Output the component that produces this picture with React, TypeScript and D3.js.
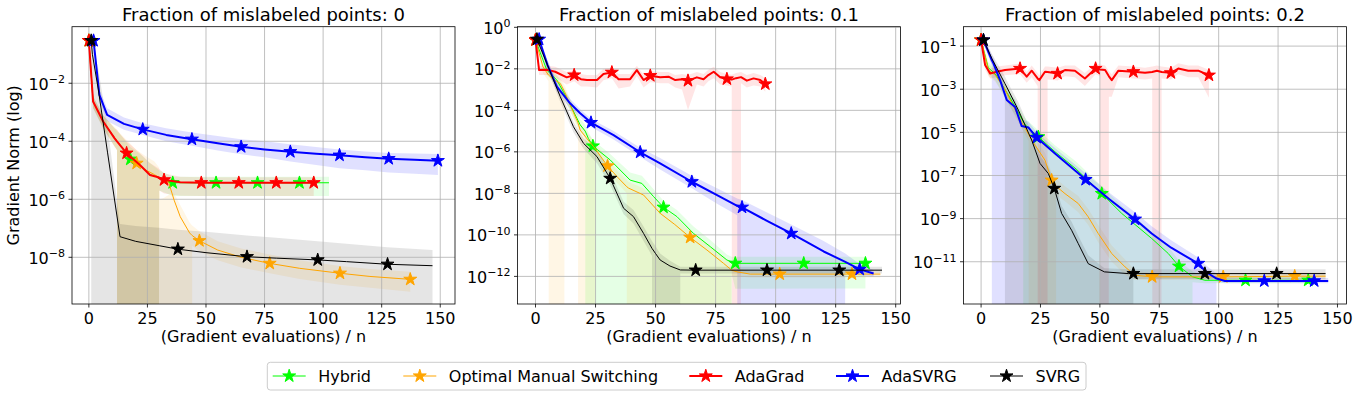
import React, { useEffect, useRef } from "react";
import * as d3 from "d3";

// each point: [x, log10 mean, log10 lower (null = mean-std below zero), log10 upper, star marker?]
type Pt = [number, number, number | null, number, number?];

const fractions = ["0", "0.1", "0.2"];
const methods = ["Hybrid", "Optimal Manual Switching", "AdaGrad", "AdaSVRG", "SVRG"];
const methodColors = ["#00ff00", "#ffa500", "#ff0000", "#0000ff", "#000000"];
const methodWidths = [1, 1, 2, 2, 1];
const bandAlpha = [0.1, 0.1, 0.1, 0.12, 0.1];
const xTicks = [0, 25, 50, 75, 100, 125, 150];
const yTicks0 = [-8, -6, -4, -2];
const yTicks1 = [-12, -10, -8, -6, -4, -2, 0];
const yTicks2 = [-11, -9, -7, -5, -3, -1];

// ---- fraction 0 ----
const hybrid0: Pt[] = [
  [0, -0.53, -0.65, -0.42, 1], [1.8, -2.63, -2.85, -2.45], [6.1, -3.32, -3.55, -3.1],
  [12, -4.0, -4.3, -3.65], [13.3, -4.13, null, -3.75], [17.7, -4.62, null, -4.2, 1],
  [22, -4.85, null, -4.45], [26, -5.15, null, -4.75], [30, -5.25, -5.7, -5.0],
  [35.8, -5.43, -5.89, -5.22, 1], [54.3, -5.43, -5.89, -5.22, 1], [72, -5.43, -5.89, -5.22, 1],
  [89.9, -5.43, -5.89, -5.22, 1], [102.5, -5.43, -5.89, -5.22],
];
const oms0: Pt[] = [
  [0, -0.53, -0.65, -0.42, 1], [1.8, -2.63, -2.85, -2.45], [6.1, -3.32, -3.55, -3.1],
  [12, -4.0, -4.3, -3.6], [13, -4.1, null, -3.7], [16, -4.4, null, -3.95], [20.4, -4.76, null, -4.3, 1],
  [24, -4.98, null, -4.5], [28, -5.15, null, -4.7], [30, -5.25, null, -4.9], [30.4, -5.27, null, -6.0],
  [32.1, -5.33, null, -5.95], [34, -5.4, null, -5.85], [36.4, -6.03, null, -5.8],
  [39, -6.6, null, -6.2], [43, -7.16, null, -6.8], [44.1, -7.25, -7.6, -6.9],
  [47.2, -7.43, -7.8, -7.1, 1], [55, -7.75, -8.1, -7.45], [65, -8.0, -8.35, -7.7],
  [77.2, -8.21, -8.55, -7.9, 1], [90, -8.38, -8.75, -8.1], [107.2, -8.55, -8.95, -8.3, 1],
  [120, -8.66, -9.05, -8.4], [137.2, -8.76, -9.19, -8.5, 1],
];
const adagrad0: Pt[] = [
  [0, -0.53, -0.65, -0.42, 1], [1.8, -2.63, -2.85, -2.45], [6.1, -3.32, -3.55, -3.1],
  [11, -3.9, -4.2, -3.55], [12, -4.0, -4.3, -3.6], [13.3, -4.13, null, -3.75],
  [16.1, -4.41, null, -4.0, 1], [21.8, -4.82, null, -4.4], [26.1, -5.16, null, -4.75],
  [30, -5.25, -5.7, -4.95], [32.1, -5.33, -5.8, -5.1, 1], [39, -5.41, -5.88, -5.22],
  [48, -5.43, -5.89, -5.24, 1], [64, -5.43, -5.89, -5.24, 1], [80, -5.43, -5.89, -5.24, 1],
  [96, -5.43, -5.89, -5.24, 1],
];
const adasvrg0: Pt[] = [
  [2, -0.53, -0.65, -0.42, 1], [4.5, -2.4, -2.6, -2.2], [7.8, -3.09, -3.3, -2.86],
  [15, -3.4, -3.6, -3.18], [23, -3.59, -3.78, -3.38, 1], [33, -3.78, -4.0, -3.55],
  [44, -3.93, -4.15, -3.7, 1], [55, -4.07, -4.32, -3.82], [65, -4.19, -4.45, -3.93, 1],
  [75, -4.28, -4.55, -4.0], [86, -4.36, -4.7, -4.1, 1], [97, -4.43, -4.82, -4.2],
  [107, -4.48, -4.93, -4.28, 1], [118, -4.55, -5.0, -4.35], [128, -4.6, -5.08, -4.4, 1],
  [139, -4.64, -5.12, -4.42], [149, -4.67, -5.16, -4.44, 1],
];
const svrg0: Pt[] = [
  [1, -0.53, -0.65, -0.4, 1], [1.5, -1.0, null, -0.6], [4, -2.2, null, -1.5], [8, -4.4, null, -3.5],
  [13.3, -7.29, null, -6.85], [20, -7.45, null, -6.92], [30, -7.6, null, -6.98],
  [38, -7.72, null, -7.05, 1], [50, -7.84, null, -7.12], [67.5, -7.98, null, -7.25, 1],
  [80, -8.03, null, -7.33], [97.7, -8.09, null, -7.45, 1], [110, -8.15, null, -7.53],
  [127.5, -8.24, null, -7.65, 1], [146.7, -8.29, null, -7.75],
];

// ---- fraction 0.1 ----
const hybrid1: Pt[] = [
  [0, -0.61, -0.75, -0.5, 1], [4.7, -2.06, -2.3, -1.85], [8.9, -2.54, -2.8, -2.3],
  [13, -3.4, -3.7, -3.15], [18.6, -4.7, -5.0, -4.4], [20.7, -5.0, -5.3, -4.7],
  [22, -5.35, null, -5.05], [23.9, -5.72, null, -5.43, 1], [31.1, -6.39, null, -6.1],
  [39.4, -7.36, null, -7.0], [44.3, -7.52, null, -7.15], [49.2, -8.16, null, -7.8],
  [53.3, -8.67, null, -8.35, 1], [58.9, -9.12, null, -8.8], [65.8, -9.93, null, -9.6],
  [72.8, -10.57, null, -10.25], [79.7, -11.21, null, -10.95], [81.7, -11.3, -11.9, -11.05],
  [83.2, -11.37, -12.6, -11.05, 1], [111.7, -11.37, -12.58, -11.05, 1], [137.4, -11.37, -12.58, -11.05, 1],
];
const oms1: Pt[] = [
  [0, -0.61, -0.75, -0.5, 1], [3.1, -1.9, -2.2, -1.7], [5.4, -2.3, -2.6, -2.05],
  [8, -2.55, null, -2.3], [10.3, -2.7, null, -2.45], [12.1, -3.1, -3.5, -2.8],
  [15, -3.9, -4.2, -3.6], [17.7, -4.6, -4.9, -4.3], [18.6, -4.95, null, -4.65],
  [21, -5.3, null, -5.0], [24.2, -5.75, null, -5.45], [24.9, -5.85, -6.3, -5.5],
  [27, -6.2, -6.6, -5.9], [30, -6.68, -7.0, -6.35, 1], [34, -7.2, -7.5, -6.9],
  [38, -7.68, -8.0, -7.35], [38.8, -7.75, null, -7.45], [45, -8.08, null, -7.75],
  [51.9, -8.96, null, -8.6], [58, -9.5, null, -9.15], [64.4, -10.12, null, -9.8, 1],
  [71.4, -10.73, null, -10.4], [78.3, -11.37, null, -11.05], [81.7, -11.7, -12.0, -11.45],
  [83.9, -11.78, -12.0, -11.6], [89.4, -11.89, -12.05, -11.75], [101.7, -11.89, -12.05, -11.75, 1],
  [131.8, -11.89, -12.05, -11.75, 1], [143.6, -11.89, -12.05, -11.75],
];
const adagrad1: Pt[] = [
  [0, -0.61, -0.75, -0.5, 1], [1.5, -2.06, -2.3, -1.85], [5, -2.05, -2.3, -1.85],
  [8.2, -2.14, -2.4, -1.9], [13, -2.41, -2.75, -2.15], [16.1, -2.3, -2.6, -2.05, 1],
  [18.9, -2.5, -2.85, -2.25], [21.4, -2.54, -2.85, -2.3], [25.6, -2.54, -2.9, -2.3],
  [28.3, -2.25, -2.55, -2.0], [31.8, -2.17, -2.45, -1.95, 1], [34.6, -2.5, -2.95, -2.25],
  [39.4, -2.5, -2.85, -2.25], [42.2, -2.06, -2.35, -1.85], [45, -2.54, -2.9, -2.3],
  [47.8, -2.33, -2.65, -2.1, 1], [51.9, -2.41, -2.7, -2.15], [55.4, -2.38, -2.7, -2.15],
  [58.2, -2.54, -2.9, -2.3], [61, -2.5, -3.0, -2.25], [63.5, -2.57, -3.98, -2.3, 1],
  [67.2, -2.41, -2.75, -2.15], [70, -2.5, -2.85, -2.25], [72, -2.3, -2.6, -2.05],
  [74.2, -2.14, -2.45, -1.9], [76.9, -2.41, -2.75, -2.15], [79.7, -2.49, -2.8, -2.25, 1],
  [81.7, -2.52, -2.85, -2.28], [83.5, -2.45, null, -2.2], [85.6, -2.4, -2.7, -2.15],
  [88, -2.57, -2.9, -2.3], [90.8, -2.46, -2.8, -2.2], [93.6, -2.54, -2.85, -2.3],
  [95.7, -2.73, -3.1, -2.45, 1],
];
const adasvrg1: Pt[] = [
  [1.5, -0.58, -0.7, -0.45, 1], [5, -1.82, -2.05, -1.6], [8.9, -2.86, -3.1, -2.6],
  [14.4, -3.66, -3.9, -3.45], [18.6, -4.14, -4.35, -3.95], [23.1, -4.59, -4.8, -4.4, 1],
  [32.5, -5.19, -5.4, -5.0], [43.6, -6.02, -6.25, -5.8, 1], [51.9, -6.55, -6.85, -6.3],
  [65.1, -7.44, -7.75, -7.15, 1], [75.6, -8.08, -8.5, -7.75], [84, -8.6, -9.05, -8.25],
  [86, -8.67, null, -8.32, 1], [96, -9.3, null, -8.9], [106.5, -9.93, null, -9.5, 1],
  [120, -10.8, null, -10.3], [129, -11.3, -11.8, -10.9], [135, -11.66, -11.95, -11.4, 1],
  [140.8, -11.86, -12.0, -11.7],
];
const svrg1: Pt[] = [
  [0.6, -0.58, -0.72, -0.45, 1], [5, -1.82, -2.05, -1.6], [10.3, -3.34, -3.6, -3.1],
  [15.8, -4.79, -5.05, -4.55], [20, -5.59, -5.85, -5.35], [25.6, -6.23, -6.55, -5.95],
  [31.1, -7.28, -7.6, -6.95, 1], [36.7, -8.72, -9.0, -8.4], [40.8, -9.12, -9.45, -8.8],
  [45, -9.93, -10.3, -9.6], [48.5, -10.65, -11.0, -10.3], [50, -10.9, null, -10.55],
  [51.9, -11.21, null, -10.9], [56, -11.5, null, -11.25], [60.3, -11.69, -11.86, -11.53],
  [66.7, -11.7, -11.86, -11.53, 1], [96.4, -11.7, -11.86, -11.53, 1],
  [126.5, -11.7, -11.86, -11.53, 1], [144.3, -11.7, -11.86, -11.53],
];

// ---- fraction 0.2 ----
const hybrid2: Pt[] = [
  [0, -0.72, -0.85, -0.6, 1], [3, -2.0, -2.3, -1.75], [6, -2.3, -2.6, -2.05],
  [10, -3.0, -3.4, -2.7], [14.3, -3.8, -4.2, -3.5], [17.7, -4.5, -4.9, -4.2],
  [19, -4.7, null, -4.4], [24.1, -5.21, null, -4.9, 1], [31.1, -5.9, null, -5.6],
  [40, -6.7, null, -6.35], [50.8, -7.84, null, -7.5, 1], [59.2, -8.76, null, -8.4],
  [71.8, -9.92, null, -9.6], [78.8, -10.62, null, -10.3], [83.3, -11.21, null, -10.95, 1],
  [89, -11.7, -11.95, -11.45], [94.2, -11.86, -12.0, -11.7], [111.3, -11.86, -12.0, -11.7, 1],
  [137.7, -11.86, -12.0, -11.7, 1], [141, -11.86, -12.0, -11.7],
];
const oms2: Pt[] = [
  [0, -0.72, -0.85, -0.6, 1], [3.1, -2.11, -2.4, -1.85], [6, -2.35, -2.65, -2.1],
  [10, -3.0, -3.35, -2.7], [15, -4.1, -4.4, -3.8], [20, -5.1, -5.4, -4.8],
  [21.3, -5.36, null, -5.05], [26.9, -6.29, null, -5.95], [29.7, -7.22, null, -6.9, 1],
  [31.6, -7.5, -7.9, -7.15], [35.3, -7.84, -8.2, -7.5], [40.9, -8.3, -8.7, -7.95],
  [45.1, -8.92, -9.3, -8.55], [49.3, -9.69, -10.1, -9.3], [55, -10.62, -11.0, -10.25],
  [60.6, -11.24, -11.6, -10.9], [64.8, -11.63, -11.85, -11.4], [72, -11.7, -11.85, -11.55, 1],
  [101.9, -11.7, -11.85, -11.55, 1], [132, -11.67, -11.85, -11.5, 1], [145, -11.67, -11.85, -11.5],
];
const adagrad2: Pt[] = [
  [0, -0.72, -0.85, -0.6, 1], [1.7, -1.88, -2.1, -1.65], [3.8, -2.27, -2.5, -2.05],
  [6.6, -2.19, -2.45, -1.95], [10.1, -2.11, -2.35, -1.9], [16.4, -2.04, -2.3, -1.8, 1],
  [19.2, -2.42, -2.7, -2.2], [21.3, -2.14, -2.45, -1.9], [23.8, -2.5, -2.85, -2.25],
  [24.5, -2.58, null, -2.35], [26.9, -2.19, null, -1.95], [28, -2.2, -2.55, -1.95],
  [32.2, -2.27, -2.6, -2.0, 1], [35.3, -2.11, -2.4, -1.9], [39.5, -2.14, -2.45, -1.9],
  [43.7, -2.5, -2.85, -2.25], [48.2, -2.04, -2.3, -1.8, 1], [50, -2.08, -2.4, -1.85],
  [52.2, -2.11, null, -1.9], [53.8, -2.4, -3.35, -2.15], [55, -2.58, -3.35, -2.3],
  [57.8, -2.14, -2.45, -1.9], [64.1, -2.19, -2.5, -1.95, 1], [69, -2.24, -2.55, -2.0],
  [72, -2.2, -2.5, -1.95], [74, -2.14, null, -1.9], [76, -2.2, -2.5, -1.95],
  [79.9, -2.24, -2.55, -2.0, 1], [83, -2.04, -2.3, -1.8], [87.2, -2.14, -2.45, -1.9],
  [91.4, -2.14, -2.45, -1.9], [95.9, -2.35, -3.4, -2.1, 1],
];
const adasvrg2: Pt[] = [
  [1, -0.72, -0.85, -0.6, 1], [4.5, -1.65, -1.9, -1.4], [5.2, -1.8, null, -1.55],
  [8, -2.58, null, -2.3], [10.8, -3.5, null, -3.1], [14.3, -3.82, null, -3.5],
  [17.1, -4.71, null, -4.4], [19.9, -4.77, null, -4.5], [23.4, -5.24, null, -5.0, 1],
  [31.1, -5.98, null, -5.72], [44, -7.19, null, -6.9, 1], [54, -8.1, null, -7.8],
  [64.8, -9.03, null, -8.7, 1], [71.8, -9.69, null, -9.35], [80, -10.35, null, -10.0],
  [89.3, -10.95, null, -10.65], [91.4, -11.08, null, -10.8, 1], [95, -11.5, null, -11.2],
  [99.1, -11.78, -11.95, -11.55], [102.6, -11.89, -12.0, -11.75], [119.2, -11.89, -12.0, -11.75, 1],
  [140.2, -11.89, -12.0, -11.75, 1], [146.1, -11.89, -12.0, -11.75],
];
const svrg2: Pt[] = [
  [1, -0.72, -0.85, -0.6, 1], [4.5, -1.57, -1.85, -1.35], [10, -2.73, -3.1, -2.4],
  [10.8, -2.9, null, -2.6], [15.7, -3.97, null, -3.6], [21.3, -5.36, null, -5.0],
  [24.8, -6.44, null, -6.1], [28.3, -6.91, null, -6.6], [30.8, -7.6, null, -7.25, 1],
  [33.9, -8.76, null, -8.4], [38.1, -9.54, null, -9.15], [40.9, -10.16, null, -9.8],
  [45.1, -11.09, null, -10.7], [51.9, -11.47, null, -11.3], [62, -11.55, null, -11.35],
  [64.1, -11.55, -11.8, -11.35, 1], [94.2, -11.55, -11.8, -11.35, 1],
  [124.4, -11.55, -11.8, -11.35, 1], [145, -11.55, -11.8, -11.35],
];

const xDomains = [[-7.2, 156.3], [-7.5, 152], [-7.4, 153.8]];
const yDomains = [[-9.61, -0.05], [-13.33, 0.03], [-12.96, -0.1]];

const panels = [
  { frac: fractions[0], series: [hybrid0, oms0, adagrad0, adasvrg0, svrg0], yTicks: yTicks0 },
  { frac: fractions[1], series: [hybrid1, oms1, adagrad1, adasvrg1, svrg1], yTicks: yTicks1 },
  { frac: fractions[2], series: [hybrid2, oms2, adagrad2, adasvrg2, svrg2], yTicks: yTicks2 },
];

const App = () => {
  const ref = useRef<SVGSVGElement>(null);

  useEffect(() => {
    const svg = d3.select(ref.current);
    svg.selectAll("*").remove();
    const font = "DejaVu Sans";
    const lefts = [72, 517.5, 963.5];
    const pw = 383;
    const top = 26.7;
    const bottom = 304;
    const star = d3.symbol(d3.symbolStar, 52);
    const tiny = 1e-300; // negative lower bound, clipped like matplotlib does

    panels.forEach((p, i) => {
      const left = lefts[i];
      const x = d3.scaleLinear().domain(xDomains[i]).range([left, left + pw]);
      const y = d3
        .scaleLog()
        .domain([10 ** yDomains[i][0], 10 ** yDomains[i][1]])
        .range([bottom, top]);
      const g = svg.append("g");

      const clipId = `clip${i}`;
      g.append("clipPath")
        .attr("id", clipId)
        .append("rect")
        .attr("x", left)
        .attr("y", top)
        .attr("width", pw)
        .attr("height", bottom - top);

      const plot = g.append("g").attr("clip-path", `url(#${clipId})`);

      // shaded std bands
      const area = d3
        .area<Pt>()
        .x((d) => x(d[0]))
        .y0((d) => y(d[2] == null ? tiny : 10 ** d[2]))
        .y1((d) => y(10 ** d[3]));
      p.series.forEach((s, k) => {
        plot
          .append("path")
          .datum(s)
          .attr("d", area)
          .attr("fill", methodColors[k])
          .attr("fill-opacity", bandAlpha[k]);
      });

      // grid
      xTicks.forEach((t) => {
        plot.append("line")
          .attr("x1", x(t)).attr("x2", x(t))
          .attr("y1", top).attr("y2", bottom)
          .attr("stroke", "#b0b0b0").attr("stroke-width", 0.8);
      });
      p.yTicks.forEach((t) => {
        plot.append("line")
          .attr("x1", left).attr("x2", left + pw)
          .attr("y1", y(10 ** t)).attr("y2", y(10 ** t))
          .attr("stroke", "#b0b0b0").attr("stroke-width", 0.8);
      });

      // mean lines + star markers
      const line = d3
        .line<Pt>()
        .x((d) => x(d[0]))
        .y((d) => y(10 ** d[1]));
      p.series.forEach((s, k) => {
        plot
          .append("path")
          .datum(s)
          .attr("d", line)
          .attr("fill", "none")
          .attr("stroke", methodColors[k])
          .attr("stroke-width", methodWidths[k])
          .attr("stroke-linejoin", "round");
        plot
          .selectAll(null)
          .data(s.filter((d) => d[4]))
          .enter()
          .append("path")
          .attr("d", star)
          .attr("transform", (d) => `translate(${x(d[0])},${y(10 ** d[1])})`)
          .attr("fill", methodColors[k])
          .attr("stroke", methodColors[k])
          .attr("stroke-width", 1);
      });

      // frame
      g.append("rect")
        .attr("x", left).attr("y", top)
        .attr("width", pw).attr("height", bottom - top)
        .attr("fill", "none").attr("stroke", "#000").attr("stroke-width", 0.8);

      // x ticks
      xTicks.forEach((t) => {
        g.append("line")
          .attr("x1", x(t)).attr("x2", x(t))
          .attr("y1", bottom).attr("y2", bottom + 3.5)
          .attr("stroke", "#000").attr("stroke-width", 0.8);
        g.append("text")
          .attr("x", x(t)).attr("y", bottom + 20)
          .attr("text-anchor", "middle")
          .attr("font-family", font).attr("font-size", 16)
          .text(t);
      });

      // y ticks, 10^k labels
      p.yTicks.forEach((t) => {
        const yy = y(10 ** t);
        g.append("line")
          .attr("x1", left - 3.5).attr("x2", left)
          .attr("y1", yy).attr("y2", yy)
          .attr("stroke", "#000").attr("stroke-width", 0.8);
        const tx = g.append("text")
          .attr("x", left - 7).attr("y", yy + 6.5)
          .attr("text-anchor", "end")
          .attr("font-family", font).attr("font-size", 16);
        tx.append("tspan").text("10");
        tx.append("tspan")
          .attr("dy", -6.5)
          .attr("font-size", 11)
          .text(t < 0 ? `\u2212${-t}` : `${t}`);
      });

      g.append("text")
        .attr("x", left + pw / 2).attr("y", 21)
        .attr("text-anchor", "middle")
        .attr("font-family", font).attr("font-size", 18)
        .text(`Fraction of mislabeled points: ${p.frac}`);

      g.append("text")
        .attr("x", left + pw / 2).attr("y", 342)
        .attr("text-anchor", "middle")
        .attr("font-family", font).attr("font-size", 16)
        .text("(Gradient evaluations) / n");

      if (i === 0) {
        g.append("text")
          .attr("transform", `translate(19,${(top + bottom) / 2}) rotate(-90)`)
          .attr("text-anchor", "middle")
          .attr("font-family", font).attr("font-size", 16)
          .text("Gradient Norm (log)");
      }
    });

    // legend
    const lg = svg.append("g");
    lg.append("rect")
      .attr("x", 267.3).attr("y", 362.3)
      .attr("width", 818.7).attr("height", 27.7)
      .attr("rx", 3)
      .attr("fill", "#fff").attr("fill-opacity", 0.8)
      .attr("stroke", "#cccccc").attr("stroke-width", 1);
    const itemX = [272.7, 403.3, 689.3, 836, 990];
    const ly = 376;
    methods.forEach((m, k) => {
      lg.append("line")
        .attr("x1", itemX[k]).attr("x2", itemX[k] + 33)
        .attr("y1", ly).attr("y2", ly)
        .attr("stroke", methodColors[k]).attr("stroke-width", methodWidths[k]);
      lg.append("path")
        .attr("d", star)
        .attr("transform", `translate(${itemX[k] + 16.5},${ly})`)
        .attr("fill", methodColors[k]).attr("stroke", methodColors[k]);
      lg.append("text")
        .attr("x", itemX[k] + 45.5).attr("y", ly + 5.8)
        .attr("font-family", font).attr("font-size", 16)
        .text(m);
    });
  }, []);

  return (
    <svg
      ref={ref}
      width={1360}
      height={397}
      style={{ position: "absolute", left: 0, top: 0, background: "#fff" }}
    />
  );
};

export default App;
